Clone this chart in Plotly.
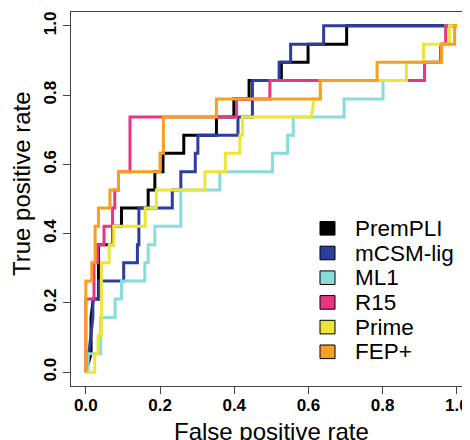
import plotly.graph_objects as go

# ---- data ----
series_names = ["PremPLI", "mCSM-lig", "ML1", "R15", "Prime", "FEP+"]
series_colors = ["#000000", "#2B3E9F", "#88DCDC", "#EA3583", "#EDE537", "#F7A01F"]

premPLI_fpr = [0, 0.014, 0.014, 0.020, 0.034, 0.034, 0.073, 0.073, 0.096, 0.096, 0.168, 0.168,
               0.186, 0.186, 0.208, 0.208, 0.264, 0.264, 0.352, 0.352, 0.399, 0.399, 0.440, 0.440,
               0.527, 0.527, 0.599, 0.599, 0.703, 0.703, 1.0]
premPLI_tpr = [0, 0.053, 0.158, 0.211, 0.211, 0.368, 0.368, 0.421, 0.421, 0.474, 0.474, 0.526,
               0.526, 0.579, 0.579, 0.632, 0.632, 0.684, 0.684, 0.737, 0.737, 0.789, 0.789, 0.842,
               0.842, 0.895, 0.895, 0.947, 0.947, 1.0, 1.0]

mcsm_fpr = [0, 0.008, 0.019, 0.019, 0.035, 0.035, 0.102, 0.102, 0.139, 0.139, 0.143, 0.143,
            0.233, 0.233, 0.256, 0.256, 0.295, 0.295, 0.302, 0.302, 0.410, 0.410, 0.449, 0.449,
            0.521, 0.521, 0.552, 0.552, 0.641, 0.641, 1.0]
mcsm_tpr = [0, 0.053, 0.158, 0.211, 0.211, 0.263, 0.263, 0.316, 0.316, 0.368, 0.368, 0.474,
            0.474, 0.526, 0.526, 0.579, 0.579, 0.632, 0.632, 0.684, 0.684, 0.737, 0.737, 0.842,
            0.842, 0.895, 0.895, 0.947, 0.947, 1.0, 1.0]

ml1_fpr = [0, 0.006, 0.006, 0.040, 0.040, 0.079, 0.079, 0.096, 0.096, 0.159, 0.159, 0.168,
           0.168, 0.186, 0.186, 0.256, 0.256, 0.361, 0.361, 0.503, 0.503, 0.544, 0.544, 0.559,
           0.559, 0.696, 0.696, 0.801, 0.801, 0.913, 0.913, 0.956, 0.956, 0.970, 0.970, 1.0]
ml1_tpr = [0, 0, 0.053, 0.053, 0.158, 0.158, 0.211, 0.211, 0.263, 0.263, 0.316, 0.316,
           0.368, 0.368, 0.421, 0.421, 0.526, 0.526, 0.579, 0.579, 0.632, 0.632, 0.684, 0.684,
           0.737, 0.737, 0.789, 0.789, 0.842, 0.842, 0.895, 0.895, 0.947, 0.947, 1.0, 1.0]

r15_fpr = [0, 0, 0.022, 0.022, 0.032, 0.032, 0.049, 0.049, 0.072, 0.072, 0.078, 0.078,
           0.088, 0.088, 0.119, 0.119, 0.406, 0.406, 0.496, 0.496, 0.913, 0.913, 0.956, 0.956,
           0.970, 0.970, 1.0]
r15_tpr = [0, 0.211, 0.211, 0.316, 0.316, 0.368, 0.368, 0.421, 0.421, 0.474, 0.474, 0.526,
           0.526, 0.579, 0.579, 0.737, 0.737, 0.789, 0.789, 0.842, 0.842, 0.895, 0.895, 0.947,
           0.947, 1.0, 1.0]

prime_fpr = [0, 0.024, 0.024, 0.033, 0.033, 0.042, 0.042, 0.063, 0.063, 0.075, 0.075, 0.160,
             0.160, 0.190, 0.190, 0.321, 0.321, 0.376, 0.376, 0.415, 0.415, 0.422, 0.422, 0.608,
             0.615, 0.632, 0.632, 0.864, 0.864, 0.910, 0.910, 0.980, 0.980, 1.0]
prime_tpr = [0, 0, 0.053, 0.053, 0.105, 0.105, 0.316, 0.316, 0.368, 0.368, 0.421, 0.421,
             0.474, 0.474, 0.526, 0.526, 0.579, 0.579, 0.632, 0.632, 0.684, 0.684, 0.737, 0.737,
             0.789, 0.789, 0.842, 0.842, 0.895, 0.895, 0.947, 0.947, 1.0, 1.0]

fep_fpr = [0, 0, 0.016, 0.016, 0.025, 0.025, 0.034, 0.034, 0.065, 0.065, 0.088, 0.088,
           0.200, 0.200, 0.209, 0.209, 0.352, 0.352, 0.632, 0.632, 0.785, 0.785, 0.959, 0.959,
           0.994, 0.994, 1.0]
fep_tpr = [0, 0.263, 0.263, 0.316, 0.316, 0.421, 0.421, 0.474, 0.474, 0.526, 0.526, 0.579,
           0.579, 0.632, 0.632, 0.737, 0.737, 0.789, 0.789, 0.842, 0.842, 0.895, 0.895, 0.947,
           0.947, 1.0, 1.0]

tick_vals = [0.0, 0.2, 0.4, 0.6, 0.8, 1.0]
tick_text = ["0.0", "0.2", "0.4", "0.6", "0.8", "1.0"]
x_title = "False positive rate"
y_title = "True positive rate"

series_x = [premPLI_fpr, mcsm_fpr, ml1_fpr, r15_fpr, prime_fpr, fep_fpr]
series_y = [premPLI_tpr, mcsm_tpr, ml1_tpr, r15_tpr, prime_tpr, fep_tpr]

# ---- layout geometry (figure pixels; page has an 8px body margin) ----
OFF = 8
W, H = 470 - OFF, 440 - OFF
ML, MR, MT, MB = 63, 0, 4, 54
PW, PH = W - ML - MR, H - MT - MB
FONT = "Liberation Sans, Arial, sans-serif"
AXC = "#444444"

fig = go.Figure()
for name, color, xs, ys in zip(series_names, series_colors, series_x, series_y):
    fig.add_trace(go.Scatter(x=xs, y=ys, mode="lines", name=name,
                             line=dict(color=color, width=3), showlegend=False,
                             hoverinfo="skip"))

def page2paper_x(px):
    return (px - OFF - ML) / PW

def page2paper_y(py):
    return (H - MB - (py - OFF)) / PH

# manual legend (squares with black border + labels), positions in page pixels
shapes = []
annotations = []
row0, row_gap = 228.3, 24.7
for i, (name, color) in enumerate(zip(series_names, series_colors)):
    cy = row0 + i * row_gap
    shapes.append(dict(type="rect", xref="paper", yref="paper",
                       x0=page2paper_x(320), x1=page2paper_x(335),
                       y0=page2paper_y(cy + 6.8), y1=page2paper_y(cy - 6.8),
                       fillcolor=color, line=dict(color="#000000", width=1)))
    annotations.append(dict(text=name, xref="paper", yref="paper",
                            x=page2paper_x(353), y=page2paper_y(cy),
                            xanchor="left", yanchor="middle", showarrow=False,
                            font=dict(family=FONT, size=22.5, color="#000000")))

# axis titles as annotations (placed where the reference has them)
annotations.append(dict(text=x_title, xref="paper", yref="paper",
                        x=page2paper_x(271.5), y=page2paper_y(431),
                        xanchor="center", yanchor="middle", showarrow=False,
                        font=dict(family=FONT, size=24, color="#000000")))
annotations.append(dict(text=y_title, xref="paper", yref="paper",
                        x=page2paper_x(22), y=page2paper_y(184),
                        xanchor="center", yanchor="middle", showarrow=False,
                        textangle=-90,
                        font=dict(family=FONT, size=24, color="#000000")))

axis_common = dict(
    showline=True, linecolor=AXC, linewidth=1,
    ticks="outside", ticklen=7, tickwidth=1, tickcolor=AXC,
    tickvals=tick_vals, ticktext=tick_text,
    tickfont=dict(family=FONT, size=17, color="#000000", weight="bold"),
    showgrid=False, zeroline=False, automargin=False,
    ticklabeloverflow="allow",
)

fig.update_layout(
    template="none",
    width=W, height=H,
    margin=dict(l=ML, r=MR, t=MT, b=MB),
    paper_bgcolor="white", plot_bgcolor="white",
    showlegend=False,
    xaxis=dict(range=[-0.04, -0.04 + PW / 371.0], mirror=True,
               ticklabelstandoff=-3, **axis_common),
    yaxis=dict(range=[-0.04, 1.04], mirror=False, tickangle=-90,
               **axis_common),
    shapes=shapes,
    annotations=annotations,
)

fig.write_html("out.html")
